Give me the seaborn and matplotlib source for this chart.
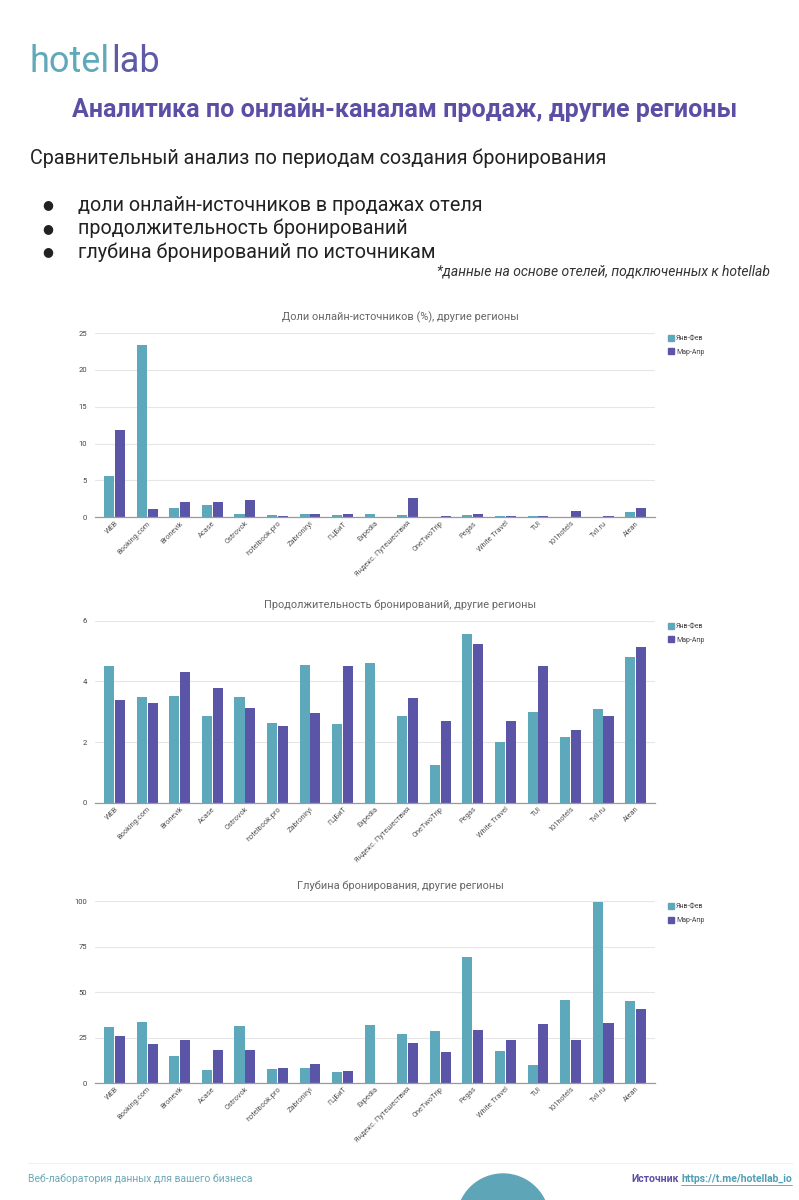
import numpy as np
import pandas as pd
import matplotlib
matplotlib.use("Agg")
import matplotlib.pyplot as plt
import seaborn as sns
from matplotlib.patches import Ellipse
from matplotlib.lines import Line2D

# --- данные ---
channels = ["WEB", "Booking.com", "Bronevik", "Acase", "Ostrovok", "hotelbook.pro",
            "Zabroniryi", "ГЦБиТ", "Expedia", "Яндекс. Путешествия", "OneTwoTrip",
            "Pegas", "White Travel", "TUI", "101hotels", "Tvil.ru", "Alean"]
periods = ["Янв-Фев", "Мар-Апр"]

share_jan = [5.6, 23.4, 1.2, 1.6, 0.4, 0.3, 0.4, 0.3, 0.4, 0.3, 0.02, 0.3, 0.1, 0.1, 0.03, 0.03, 0.7]
share_mar = [11.8, 1.1, 2.0, 2.0, 2.3, 0.2, 0.5, 0.5, 0.0, 2.6, 0.15, 0.4, 0.2, 0.15, 0.8, 0.1, 1.3]

los_jan = [4.52, 3.5, 3.52, 2.87, 3.48, 2.64, 4.55, 2.6, 4.6, 2.87, 1.24, 5.55, 2.0, 3.0, 2.18, 3.08, 4.8]
los_mar = [3.38, 3.3, 4.3, 3.8, 3.14, 2.52, 2.96, 4.5, 0.0, 3.45, 2.68, 5.22, 2.68, 4.5, 2.4, 2.87, 5.12]

depth_jan = [31, 33.5, 15, 7.3, 31.5, 7.8, 8.2, 6.3, 31.8, 26.7, 28.6, 69.2, 17.5, 10, 45.9, 99.5, 45]
depth_mar = [25.6, 21.5, 23.7, 18, 18.3, 8.1, 10.3, 6.5, 0, 22, 17.2, 29.4, 23.7, 32.4, 23.4, 32.8, 40.5]

share_ticks = [0, 5, 10, 15, 20, 25]
los_ticks = [0, 2, 4, 6]
depth_ticks = [0, 25, 50, 75, 100]

TEAL = "#5ea8bb"
PURPLE = "#5b55a8"
TITLE_PURPLE = "#5a4fa5"

sns.set_theme(style="white")
plt.rcParams['font.family'] = ['Roboto', 'DejaVu Sans']

fig = plt.figure(figsize=(7.99, 12), dpi=100)


def long_df(jan, mar):
    return pd.DataFrame({
        "channel": channels * 2,
        "period": [periods[0]] * len(channels) + [periods[1]] * len(channels),
        "value": list(jan) + list(mar),
    })


def bar_panel(rect, jan, mar, ticks, title):
    ax = fig.add_axes(rect)
    sns.barplot(data=long_df(jan, mar), x="channel", y="value", hue="period",
                palette=[TEAL, PURPLE], saturation=1, width=0.66, gap=0.06,
                linewidth=0, edgecolor="none", ax=ax, legend=False)
    ax.set_ylim(0, ticks[-1])
    ax.set_yticks(ticks)
    ax.set_xlim(-0.6, len(channels) - 0.4)
    ax.yaxis.grid(True, color="#e6e6e6", lw=0.8)
    ax.set_axisbelow(True)
    for s in ["top", "right", "left"]:
        ax.spines[s].set_visible(False)
    ax.spines["bottom"].set_color("#9a9a9a")
    ax.spines["bottom"].set_linewidth(0.9)
    ax.set_xlabel("")
    ax.set_ylabel("")
    ax.tick_params(axis="y", labelsize=5.5, colors="#444444", length=0, pad=6)
    ax.tick_params(axis="x", length=0, pad=2)
    ax.set_xticks(range(len(channels)))
    ax.set_xticklabels(channels, rotation=45, ha="right", rotation_mode="anchor",
                       fontsize=5.3, color="#555555")
    ax.set_title(title, fontsize=7.9, color="#666666", pad=9, x=0.545)
    handles = [Line2D([], [], marker="s", ls="", color=c, markersize=4.5) for c in [TEAL, PURPLE]]
    ax.legend(handles, periods, loc="upper left", bbox_to_anchor=(1.01, 1.02),
              frameon=False, fontsize=5, handletextpad=0.3, labelspacing=0.9,
              handlelength=1.0, labelcolor="#444444")
    return ax


bar_panel([0.119, 0.569, 0.701, 0.1535], share_jan, share_mar, share_ticks,
          "Доли онлайн-источников (%), другие регионы")
bar_panel([0.119, 0.331, 0.701, 0.1517], los_jan, los_mar, los_ticks,
          "Продолжительность бронирований, другие регионы")
bar_panel([0.119, 0.0975, 0.701, 0.1515], depth_jan, depth_mar, depth_ticks,
          "Глубина бронирования, другие регионы")

# --- шапка ---
renderer = fig.canvas.get_renderer()
logo1 = fig.text(30 / 799, 1 - 62 / 1200, "hotel", fontsize=26, color="#5fa9b9",
                 va="center", ha="left")
bb = logo1.get_window_extent(renderer)
fig.text(bb.x1 / fig.bbox.width + 1 / 799, 1 - 62 / 1200, "lab", fontsize=26,
         color="#5d5aa8", va="center", ha="left")

fig.text(0.506, 1 - 110 / 1200, "Аналитика по онлайн-каналам продаж, другие регионы",
         fontsize=18, fontweight="bold", color=TITLE_PURPLE, ha="center", va="center")
fig.text(30 / 799, 1 - 158 / 1200, "Сравнительный анализ по периодам создания бронирования",
         fontsize=14.2, color="#222222", ha="left", va="center")
bullets = ["доли онлайн-источников в продажах отеля",
           "продолжительность бронирований",
           "глубина бронирований по источникам"]
for i, b in enumerate(bullets):
    y = 1 - (205 + 23.5 * i) / 1200
    fig.text(42 / 799, y, "●", fontsize=9, color="#222222", ha="left", va="center",
             family=["DejaVu Sans"])
    fig.text(78 / 799, y, b, fontsize=14.2, color="#222222", ha="left", va="center")
fig.text(770 / 799, 1 - 272 / 1200, "*данные на основе отелей, подключенных к hotellab",
         fontsize=10, style="italic", color="#333333", ha="right", va="center")

# --- подвал ---
fig.add_artist(Line2D([28 / 799, 792 / 799], [1 - 1163 / 1200] * 2, color="#f0f0f0", lw=0.8))
fig.text(28 / 799, 1 - 1179 / 1200, "Веб-лаборатория данных для вашего бизнеса",
         fontsize=7.5, color="#6aa9b8", ha="left", va="center")
link = fig.text(792 / 799, 1 - 1179 / 1200, "https://t.me/hotellab_io", fontsize=7.5,
                color="#4f9fb3", ha="right", va="center", fontweight="bold")
lb = link.get_window_extent(renderer)
fig.text(lb.x0 / fig.bbox.width - 3 / 799, 1 - 1179 / 1200, "Источник", fontsize=7.5,
         color=TITLE_PURPLE, ha="right", va="center", fontweight="bold")
fig.add_artist(Line2D([lb.x0 / fig.bbox.width, 792 / 799], [1 - 1185 / 1200] * 2,
                      color="#4f9fb3", lw=0.6))
fig.add_artist(Ellipse((503 / 799, 1 - 1220 / 1200), 92 / 799, 92 / 1200,
                       color="#5fa5b8", transform=fig.transFigure))

fig.savefig("out.png", dpi=100)
